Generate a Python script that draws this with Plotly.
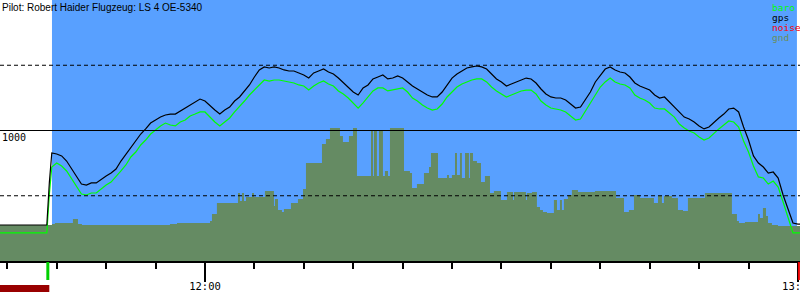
import plotly.graph_objects as go

# ---- data (minutes relative to 12:00, altitudes in m) ----
time_min = [-21, -16, -15.75, -15.5,
            -15, -14.5, -14, -13.5, -13, -12.5, -12, -11.5, -11, -10.5,
            -10, -9.5, -9, -8.5, -8, -7.5, -7, -6.5, -6, -5.5,
            -5, -4.5, -4, -3.5, -3, -2.5, -2, -1.5, -1, -0.5,
            0, 0.5, 1, 1.5, 2, 2.5, 3, 3.5, 4, 4.5,
            5, 5.5, 6, 6.5, 7, 7.5, 8, 8.5, 9, 9.5,
            10, 10.5, 11, 11.5, 12, 12.5, 13, 13.5, 14, 14.5,
            15, 15.5, 16, 16.5, 17, 17.5, 18, 18.5, 19, 19.5,
            20, 20.5, 21, 21.5, 22, 22.5, 23, 23.5, 24, 24.5,
            25, 25.5, 26, 26.5, 27, 27.5, 28, 28.5, 29, 29.5,
            30, 30.5, 31, 31.5, 32, 32.5, 33, 33.5, 34, 34.5,
            35, 35.5, 36, 36.5, 37, 37.5, 38, 38.5, 39, 39.5,
            40, 40.5, 41, 41.5, 42, 42.5, 43, 43.5, 44, 44.5,
            45, 45.5, 46, 46.5, 47, 47.5, 48, 48.5, 49, 49.5,
            50, 50.5, 51, 51.5, 52, 52.5, 53, 53.5, 54, 54.5,
            55, 55.5, 56, 56.5, 57, 57.5, 58, 58.5, 59, 59.5,
            60, 60.5]

gps_alt = [276, 276, 598, 828,
           820, 805, 766, 705, 644, 590, 582, 598, 598, 628,
           651, 674, 705, 766, 820, 874, 920, 973, 1012, 1057,
           1080, 1103, 1119, 1126, 1126, 1149, 1172, 1195, 1218, 1241,
           1226, 1188, 1157, 1126, 1157, 1180, 1226, 1257, 1303, 1349,
           1410, 1464, 1487, 1479, 1487, 1479, 1464, 1456, 1456, 1441,
           1425, 1402, 1441, 1456, 1471, 1448, 1433, 1402, 1364, 1326,
           1295, 1272, 1326, 1349, 1395, 1410, 1425, 1395, 1402, 1418,
           1402, 1372, 1341, 1318, 1295, 1272, 1257, 1257, 1295, 1349,
           1402, 1433, 1456, 1479, 1487, 1494, 1487, 1471, 1433, 1395,
           1372, 1341, 1356, 1372, 1387, 1402, 1395, 1364, 1318, 1280,
           1257, 1249, 1249, 1234, 1203, 1172, 1180, 1241, 1295, 1372,
           1425, 1471, 1487, 1464, 1448, 1441, 1410, 1364, 1341, 1326,
           1310, 1272, 1249, 1257, 1218, 1180, 1142, 1103, 1088, 1065,
           1035, 1012, 1027, 1065, 1096, 1126, 1165, 1172, 1142, 1027,
           927, 805, 751, 720, 674, 682, 636, 506, 398, 291,
           283, 283]

baro_alt = [215, 215, 506, 720,
            751, 728, 690, 628, 575, 513, 506, 521, 521, 552,
            582, 605, 644, 690, 736, 797, 835, 889, 927, 973,
            1004, 1035, 1057, 1042, 1035, 1065, 1080, 1111, 1126, 1142,
            1142, 1103, 1065, 1035, 1065, 1096, 1142, 1180, 1226, 1272,
            1310, 1356, 1387, 1379, 1387, 1387, 1379, 1372, 1364, 1349,
            1341, 1310, 1341, 1364, 1379, 1356, 1341, 1303, 1280, 1249,
            1211, 1172, 1211, 1257, 1303, 1326, 1326, 1303, 1310, 1318,
            1326, 1295, 1249, 1226, 1195, 1172, 1157, 1165, 1203, 1257,
            1295, 1333, 1356, 1372, 1387, 1395, 1395, 1372, 1333, 1303,
            1280, 1257, 1272, 1287, 1303, 1310, 1310, 1280, 1226, 1195,
            1172, 1165, 1157, 1142, 1111, 1080, 1088, 1149, 1203, 1272,
            1333, 1372, 1402, 1372, 1356, 1349, 1326, 1272, 1249, 1234,
            1211, 1172, 1165, 1165, 1134, 1103, 1050, 1019, 996, 981,
            950, 927, 943, 981, 1012, 1042, 1073, 1065, 1027, 920,
            835, 728, 644, 636, 590, 613, 567, 452, 329, 215,
            215, 215]

gnd_time = [-21, -15.48, -15.18, -13.36, -12.85, -12.45, -3.54, -2.83, 0.51, 0.71,
            1.21, 3.34, 3.54, 3.74, 3.95, 4.15, 4.76, 4.96, 6.07, 6.98,
            7.08, 7.39, 7.79, 7.99, 8.70, 9.41, 9.92, 10.22, 11.84, 12.24,
            12.65, 13.66, 13.96, 14.57, 14.98, 15.38, 16.80, 17.00, 17.10, 17.40,
            17.61, 18.01, 18.21, 18.52, 18.72, 20.14, 20.74, 20.95, 21.45, 22.16,
            22.67, 22.87, 23.58, 24.49, 24.69, 24.99, 25.30, 25.50, 25.80, 26.00,
            26.31, 26.71, 26.81, 27.12, 27.52, 27.93, 28.33, 28.84, 29.24, 29.95,
            30.56, 31.17, 31.27, 32.48, 32.58, 33.09, 33.59, 33.90, 34.20, 34.61,
            35.31, 35.62, 35.92, 36.12, 36.32, 36.73, 37.13, 37.74, 39.46, 41.59,
            42.40, 42.90, 43.41, 44.02, 45.43, 45.84, 46.24, 46.44, 47.25, 47.86,
            48.37, 48.87, 50.59, 53.32, 53.83, 54.03, 54.64, 55.96, 56.16, 56.46,
            56.77, 56.97, 57.37, 57.98, 61]
gnd_alt = [276, 283, 291, 322, 283, 276, 283, 291, 306, 360,
           444, 521, 460, 521, 460, 490, 521, 490, 536, 421,
           475, 391, 375, 398, 444, 475, 552, 751, 897, 935,
           1019, 958, 912, 958, 1019, 651, 996, 651, 996, 651,
           996, 651, 690, 651, 1019, 690, 674, 559, 590, 674,
           720, 828, 636, 659, 636, 659, 828, 659, 828, 636,
           828, 636, 828, 766, 751, 605, 651, 521, 536, 467,
           529, 467, 529, 467, 521, 529, 414, 391, 375, 368,
           467, 391, 467, 391, 475, 506, 544, 529, 536, 483,
           375, 391, 506, 483, 444, 498, 444, 498, 483, 391,
           383, 483, 521, 360, 306, 291, 299, 360, 329, 406,
           345, 291, 276, 268, 268]

tick_vals = [0, 60]
tick_text = ["12:00", "13:00"]
grid_levels = [500, 1000, 1500]
grid_dash = ["4px,3px", "solid", "4px,3px"]
level_label = "1000"
x_range = [-20.74, 60.21]
y_range = [0, 2000]
flight_start, flight_end = -15.48, 59.9
takeoff_t, landing_t = -15.9, 60.1
noise_periods = [(-21, -15.75)]
legend_names = ["baro", "gps", "noise", "gnd"]
legend_colors = ["#00ff00", "#000000", "#ff0000", "#6b8e5a"]
title = "Pilot: Robert Haider Flugzeug: LS 4 OE-5340"

SKY = "#58a0ff"
GND = "#658b63"
PLOT_H = 261  # plot area height in px


def py(p):
    return 1 - p / PLOT_H


fig = go.Figure()
fig.add_trace(go.Scatter(x=gnd_time, y=gnd_alt, mode="lines", line=dict(shape="hv", width=0, color=GND),
                         fill="tozeroy", fillcolor=GND, name="gnd", hoverinfo="skip"))
fig.add_trace(go.Scatter(x=time_min, y=baro_alt, mode="lines", line=dict(color="#00ff00", width=1.2), name="baro"))
fig.add_trace(go.Scatter(x=time_min, y=gps_alt, mode="lines", line=dict(color="#000000", width=1.2), name="gps"))

shapes = [dict(type="rect", xref="x", yref="paper", x0=flight_start, x1=flight_end, y0=0, y1=1,
               fillcolor=SKY, line_width=0, layer="below")]
for lvl, dsh in zip(grid_levels, grid_dash):
    shapes.append(dict(type="line", xref="paper", yref="y", x0=0, x1=1, y0=lvl, y1=lvl,
                       line=dict(color="black", width=1.2, dash=dsh), layer="above"))
shapes.append(dict(type="line", xref="x", yref="paper", x0=takeoff_t, x1=takeoff_t, y0=py(262), y1=py(280),
                   line=dict(color="#00d000", width=3)))
shapes.append(dict(type="line", xref="x", yref="paper", x0=landing_t, x1=landing_t, y0=py(262), y1=py(280),
                   line=dict(color="#ee0000", width=2)))
for a, b in noise_periods:
    shapes.append(dict(type="rect", xref="x", yref="paper", x0=a, x1=b, y0=py(292), y1=py(285),
                       fillcolor="#990000", line_width=0))

ann = [dict(text=title, x=0, y=py(7), xref="paper", yref="paper", xanchor="left", yanchor="middle",
            showarrow=False, font=dict(family="Liberation Sans, Arial", size=10, color="black")),
       dict(text=level_label, x=0, y=py(137.5), xref="paper", yref="paper", xanchor="left", yanchor="middle",
            showarrow=False, font=dict(family="DejaVu Sans Mono", size=10, color="black"))]
for i, (nm, col) in enumerate(zip(legend_names, legend_colors)):
    ann.append(dict(text=nm, x=770 / 800, y=py(7 + 10.3 * i), xref="paper", yref="paper", xanchor="left",
                    yanchor="middle", showarrow=False,
                    font=dict(family="DejaVu Sans Mono", size=9.5, color=col)))

fig.update_layout(
    width=800, height=300, margin=dict(l=0, r=0, t=0, b=39),
    paper_bgcolor="white", plot_bgcolor="white", showlegend=False,
    shapes=shapes, annotations=ann,
    xaxis=dict(range=x_range, tickmode="array", tickvals=tick_vals, ticktext=tick_text,
               ticks="outside", ticklen=19, tickwidth=1.5, tickcolor="black",
               showline=True, linecolor="black", linewidth=1.5, showgrid=False, zeroline=False,
               automargin=False, ticklabeloverflow="allow", ticklabelstandoff=-4,
               tickfont=dict(family="DejaVu Sans Mono", size=10.5, color="black"),
               minor=dict(tickmode="linear", tick0=0, dtick=5, ticks="outside", ticklen=6,
                          tickwidth=1.5, tickcolor="black", showgrid=False)),
    yaxis=dict(range=y_range, visible=False, showgrid=False, zeroline=False, fixedrange=True),
)

fig.write_html("out.html")
